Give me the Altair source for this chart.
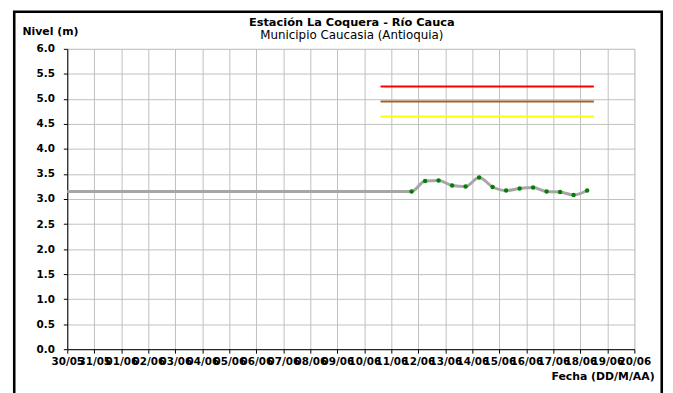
import altair as alt
import pandas as pd

# ---- data ----
x_labels = ["30/05", "31/05", "01/06", "02/06", "03/06", "04/06", "05/06", "06/06",
            "07/06", "08/06", "09/06", "10/06", "11/06", "12/06", "13/06", "14/06",
            "15/06", "16/06", "17/06", "18/06", "19/06", "20/06"]
y_ticks = [0.0, 0.5, 1.0, 1.5, 2.0, 2.5, 3.0, 3.5, 4.0, 4.5, 5.0, 5.5, 6.0]

# observation times (days after 30/05 00:00) and levels (m)
obs_day = [12.75, 13.25, 13.75, 14.25, 14.75, 15.25, 15.75, 16.25, 16.75,
           17.25, 17.75, 18.25, 18.75, 19.25]
obs_level = [3.15, 3.36, 3.37, 3.27, 3.25, 3.43, 3.24, 3.17, 3.21, 3.23,
             3.15, 3.14, 3.08, 3.17]
start_day = [0.0]
start_level = [3.15]

thr_level = [5.25, 4.95, 4.65]
thr_color = ["#FF0000", "#A0632F", "#FFFF00"]
thr_start = [11.6, 11.6, 11.6]
thr_end = [19.5, 19.5, 19.5]

title_text = "Estación La Coquera - Río Cauca"
subtitle_text = "Municipio Caucasia (Antioquia)"

# ---- tables ----
line_df = pd.DataFrame({"day": start_day + obs_day, "level": start_level + obs_level})
obs_df = pd.DataFrame({"day": obs_day, "level": obs_level})
thr_df = pd.DataFrame({"d0": thr_start, "d1": thr_end, "level": thr_level, "color": thr_color})
one = pd.DataFrame({"k": [0]})

FONT = "DejaVu Sans"
W, H = 574, 304

label_expr = "[" + ",".join("'%s'" % s for s in x_labels) + "][datum.value]"

x_scale = alt.Scale(domain=[0, len(x_labels) - 1], nice=False, zero=False)
y_scale = alt.Scale(domain=[0, 6], nice=False, zero=True)

common = dict(labelFont=FONT, labelFontWeight="bold", labelFontSize=10.5, labelColor="black",
              titleFont=FONT, titleFontWeight="bold", titleFontSize=11, titleColor="black",
              domainColor="black", tickColor="black", gridColor="#C0C0C0", gridWidth=1,
              tickSize=4, labelOverlap=False, labelFlush=False, grid=True, titleAngle=0,
              titleBaseline="alphabetic")

x_axis = alt.Axis(values=list(range(len(x_labels))), labelExpr=label_expr,
                  title="Fecha (DD/M/AA)", titleAlign="right", titleX=594, titleY=31,
                  labelBaseline="alphabetic", labelPadding=12, **common)
y_axis = alt.Axis(values=y_ticks, format=".1f", title="Nivel (m)",
                  titleAlign="center", titleX=-17.5, titleY=-15, labelPadding=9, **common)

X = lambda f: alt.X(f, type="quantitative", scale=x_scale, axis=x_axis)
Y = lambda f: alt.Y(f, type="quantitative", scale=y_scale, axis=y_axis)

border = alt.Chart(one).mark_rect(fillOpacity=0, stroke="black", strokeWidth=2.6).encode(
    x=alt.value(-53.7), x2=alt.value(601.7), y=alt.value(-37.5), y2=alt.value(420))

thr = alt.Chart(thr_df).mark_rule(strokeWidth=2).encode(
    x=X("d0"), x2="d1:Q", y=Y("level"),
    color=alt.Color("color:N", scale=None),
)

line = alt.Chart(line_df).mark_line(color="#A6A6A6", strokeWidth=3, interpolate="monotone").encode(
    x=X("day"), y=Y("level"))

pts = alt.Chart(obs_df).mark_circle(color="#008000", size=20, opacity=1).encode(
    x=X("day"), y=Y("level"))

title = alt.Chart(one).mark_text(font=FONT, fontWeight="bold", fontSize=11.5,
                                 align="center", baseline="alphabetic", color="black").encode(
    x=alt.value(288), y=alt.value(-23), text=alt.value(title_text))
subtitle = alt.Chart(one).mark_text(font=FONT, fontSize=12, align="center",
                                    baseline="alphabetic", color="black").encode(
    x=alt.value(288), y=alt.value(-10), text=alt.value(subtitle_text))

chart = alt.layer(border, thr, line, pts, title, subtitle).properties(
    width=W, height=H,
    autosize=alt.AutoSizeParams(type="none"),
    padding={"left": 60, "top": 39, "right": 31, "bottom": 42},
).configure_view(stroke=None).configure(background="white")

chart.save("out.html", embed_options={"renderer": "svg", "actions": False})
